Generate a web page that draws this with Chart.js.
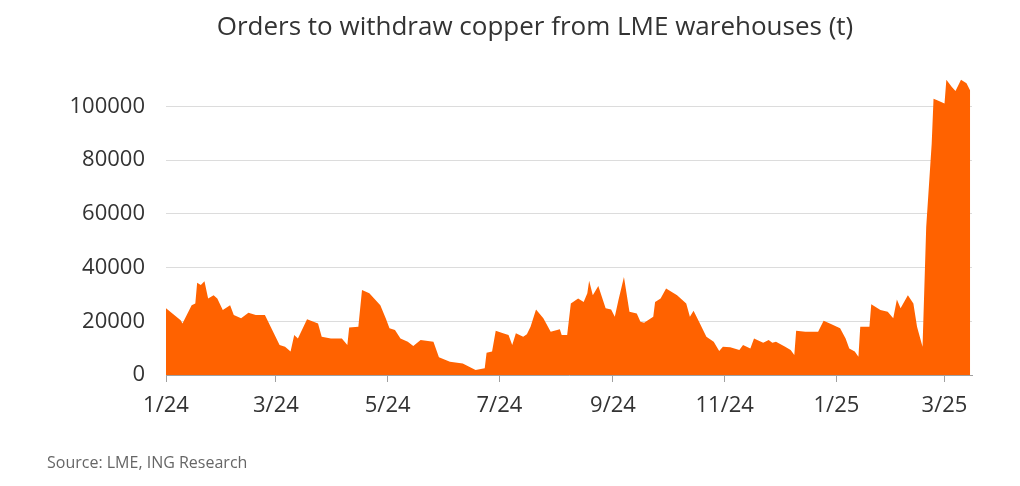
<!DOCTYPE html>
<html>
<head>
<meta charset="utf-8">
<script src="https://cdn.jsdelivr.net/npm/chart.js@4/dist/chart.umd.min.js"></script>
<style>
  html, body { margin: 0; padding: 0; background: #fff; }
  #wrap { width: 1020px; height: 486px; position: relative; }
</style>
</head>
<body>
<div id="wrap"><canvas id="lme-orders"></canvas></div>
<script>
  // days since 1 Jan 2024
  const days = [
    0, 8, 9, 14, 16, 17, 19, 21, 23, 26, 28, 31, 35, 37, 41, 45, 49, 54, 58, 62,
    65, 68, 70, 72, 77, 83, 85, 90, 96, 99, 100, 105, 107, 111, 117, 120, 122, 125, 128, 132,
    135, 139, 146, 149, 155, 162, 169, 174, 175, 178, 180, 184, 187, 189, 191, 195, 197, 199, 202, 206,
    210, 215, 216, 219, 221, 225, 228, 230, 231, 233, 236, 240, 243, 245, 247, 250, 253, 257, 259, 261,
    266, 267, 270, 273, 279, 284, 286, 288, 291, 295, 299, 302, 304, 308, 313, 315, 319, 321, 326, 329,
    331, 333, 338, 341, 343, 344, 349, 356, 359, 363, 368, 371, 373, 376, 378, 379, 384, 385, 390, 394,
    397, 399, 401, 405, 408, 410, 413, 415, 418, 419, 421, 425, 426, 429, 431, 434, 437, 439
  ];

  // tonnes
  const orders = [
    24800, 20400, 19200, 26000, 26600, 34300, 33500, 34900, 28500, 29700, 28500, 24200, 26000, 22300, 21100, 23200, 22300, 22300, 16700, 11200,
    10500, 8700, 14900, 13600, 20700, 19200, 14200, 13600, 13600, 11200, 17700, 18000, 31600, 30400, 26000, 21000, 17400, 16700, 13600, 12400,
    10800, 13000, 12400, 6600, 4900, 4300, 1900, 2500, 8300, 8700, 16500, 15500, 14900, 11200, 15500, 14200, 15200, 18000, 24400, 21100,
    16100, 17000, 14900, 14900, 26600, 28500, 27200, 30400, 35100, 29700, 33100, 24800, 24400, 21700, 27900, 36500, 23500, 22900, 19800, 19400,
    21700, 27200, 28500, 32200, 29700, 26600, 21700, 23900, 19800, 14200, 12400, 8900, 10500, 10300, 9300, 11200, 9900, 13600, 12000, 13000,
    12000, 12400, 10500, 9300, 7400, 16500, 16100, 16100, 20200, 19000, 17400, 13600, 9900, 8700, 6800, 18000, 18000, 26300, 24200, 23500,
    21100, 28100, 24800, 29700, 26600, 18000, 10500, 55100, 86100, 102800, 102200, 101000, 109900, 107200, 105700, 109900, 108600, 105900
  ];

  const tickDays = [0, 60, 121, 182, 244, 305, 366, 425];
  const tickLabels = ['1/24', '3/24', '5/24', '7/24', '9/24', '11/24', '1/25', '3/25'];
  const yTicks = [0, 20000, 40000, 60000, 80000, 100000];

  const fontFamily = "'Open Sans', 'Noto Sans', sans-serif";
  const textColor = '#333333';

  const points = days.map((d, i) => ({ x: d, y: orders[i] }));

  // title and source line, placed where the original has them
  const chartTexts = {
    id: 'chartTexts',
    afterDraw(chart) {
      const ctx = chart.ctx;
      ctx.save();
      ctx.textBaseline = 'middle';

      ctx.font = '26px ' + fontFamily;
      ctx.fillStyle = textColor;
      ctx.textAlign = 'center';
      ctx.fillText('Orders to withdraw copper from LME warehouses (t)', 535, 28);

      ctx.font = '16px ' + fontFamily;
      ctx.fillStyle = '#666666';
      ctx.textAlign = 'left';
      ctx.fillText('Source: LME, ING Research', 47, 463);
      ctx.restore();
    }
  };

  new Chart(document.getElementById('lme-orders'), {
    type: 'line',
    data: {
      datasets: [{
        data: points,
        fill: 'origin',
        backgroundColor: '#FF6200',
        borderWidth: 0,
        pointRadius: 0,
        tension: 0,
      }]
    },
    options: {
      responsive: true,
      maintainAspectRatio: false,
      animation: false,
      layout: {
        padding: { left: 0, right: 48, top: 74, bottom: 0 }
      },
      plugins: {
        legend: { display: false },
        tooltip: { enabled: false },
        title: { display: false },
      },
      scales: {
        x: {
          type: 'linear',
          min: 0,
          max: 440,
          afterFit: (scale) => { scale.height = 111; },
          afterBuildTicks: (scale) => {
            scale.ticks = tickDays.map(d => ({ value: d }));
          },
          ticks: {
            autoSkip: false,
            maxRotation: 0,
            padding: 11,
            color: textColor,
            font: { family: fontFamily, size: 22 },
            callback: (v) => tickLabels[tickDays.indexOf(v)],
          },
          grid: {
            drawOnChartArea: false,
            tickLength: 7,
            color: '#a0a0a0',
          },
          border: { display: true, color: '#a0a0a0' },
        },
        y: {
          min: 0,
          max: 112000,
          afterFit: (scale) => { scale.width = 166; },
          afterBuildTicks: (scale) => {
            scale.ticks = yTicks.map(v => ({ value: v }));
          },
          ticks: {
            padding: 21,
            color: textColor,
            font: { family: fontFamily, size: 22 },
            callback: (v) => String(v),
          },
          grid: {
            drawTicks: false,
            color: '#dcdcdc',
          },
          border: { display: false },
        },
      },
    },
    plugins: [chartTexts],
  });
</script>
</body>
</html>
